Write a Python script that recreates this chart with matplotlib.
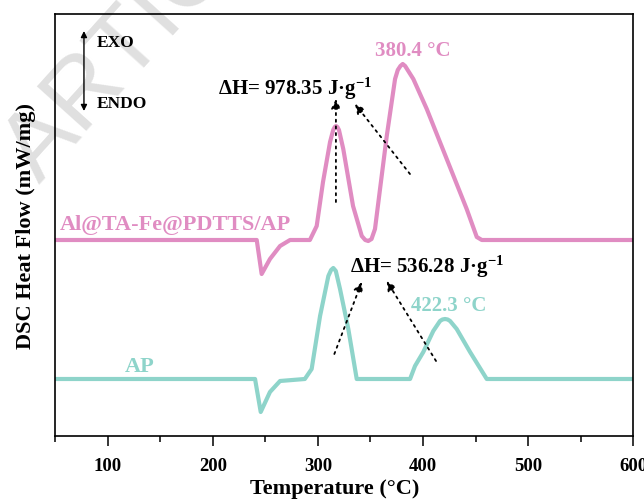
import matplotlib

matplotlib.use("Agg")
import matplotlib.pyplot as plt
from matplotlib.ticker import MultipleLocator


# DSC traces (temperature in degC, heat flow in arbitrary units)
temp_pdtts = [50, 235, 241.7, 246.4, 254.3, 263.9, 273.4, 292.3, 298.8, 304.8,
              311.5, 314.5, 316.0, 317.2, 318.5, 320.0, 324.1, 333.4, 341.7, 345.0,
              347.9, 351.0, 354.3, 359.1, 365.5, 373.4, 376.0, 378.5, 380.7, 383.0,
              386.0, 390.8, 403.6, 422.6, 441.6, 451.2, 456.0, 600]
flow_pdtts = [1.96, 1.96, 1.96, 1.62, 1.77, 1.90, 1.96, 1.96, 2.10, 2.54,
              2.94, 3.06, 3.09, 3.10, 3.09, 3.06, 2.87, 2.30, 2.00, 1.96,
              1.95, 1.97, 2.07, 2.47, 3.00, 3.57, 3.66, 3.70, 3.72, 3.70,
              3.65, 3.57, 3.27, 2.77, 2.27, 1.99, 1.96, 1.96]

temp_ap = [50, 240.1, 245.5, 254.3, 263.9, 287.5, 294.0, 302.0, 309.9, 312.5,
           314.6, 317.0, 321.0, 328.9, 336.9, 387.7, 392.4, 400.3, 409.8, 416.2,
           418.5, 421.0, 423.5, 425.8, 432.1, 444.8, 460.7, 600]
flow_ap = [0.57, 0.57, 0.24, 0.44, 0.55, 0.57, 0.67, 1.20, 1.60, 1.66,
           1.68, 1.65, 1.47, 1.07, 0.57, 0.57, 0.70, 0.84, 1.05, 1.15,
           1.165, 1.17, 1.165, 1.15, 1.07, 0.84, 0.57, 0.57]

series_names = ["Al@TA-Fe@PDTTS/AP", "AP"]
peak_labels = ["380.4 \u00b0C", "422.3 \u00b0C"]
enthalpy_labels = ["\u0394H= 978.35 J\u00b7g$^{-1}$", "\u0394H= 536.28 J\u00b7g$^{-1}$"]
x_ticks = [100, 200, 300, 400, 500, 600]


def _style():
    plt.rcParams.update(
        {
            "font.family": ["Liberation Serif", "DejaVu Serif"],
            "font.weight": "bold",
            "axes.labelweight": "bold",
            "mathtext.fontset": "custom",
            "mathtext.rm": "Liberation Serif:bold",
            "mathtext.bf": "Liberation Serif:bold",
            "mathtext.it": "Liberation Serif:bold:italic",
            "axes.linewidth": 1.2,
        }
    )


def main() -> None:
    _style()
    pink = "#e08cc2"
    teal = "#8ed4ca"

    fig = plt.figure(figsize=(6.44, 5.02), dpi=100)
    ax = fig.add_axes([0.086, 0.1295, 0.897, 0.8406])
    ax.patch.set_visible(False)

    # faint watermark behind everything
    fig.text(0.245, 0.97, "ARTICLE", rotation=48, fontsize=70, color="#e0e0e0",
             family="Liberation Sans", weight="normal", ha="center", va="center",
             rotation_mode="anchor", zorder=-5)

    line_kw = {"lw": 3.0, "solid_joinstyle": "round", "solid_capstyle": "round"}
    ax.plot(temp_pdtts, flow_pdtts, color=pink, **line_kw)
    ax.plot(temp_ap, flow_ap, color=teal, **line_kw)

    ax.set_xlim(50, 600)
    ax.set_ylim(0, 4.22)
    ax.set_xticks(x_ticks)
    ax.xaxis.set_minor_locator(MultipleLocator(50))
    ax.set_yticks([])
    ax.tick_params(axis="x", which="major", direction="out", length=7, width=1.1, pad=8, labelsize=13.5)
    ax.tick_params(axis="x", which="minor", direction="out", length=4, width=1.1)
    ax.set_xlabel("Temperature (\u00b0C)", fontsize=16)
    ax.xaxis.set_label_coords(0.484, -0.1)
    ax.set_ylabel("DSC Heat Flow (mW/mg)", fontsize=16, labelpad=14)

    # series names and peak temperatures
    ax.text(54.5, 2.07, series_names[0], color=pink, fontsize=16, ha="left", va="baseline")
    ax.text(130, 0.65, series_names[1], color=teal, fontsize=16, ha="center", va="baseline")
    ax.text(390.4, 3.81, peak_labels[0], color=pink, fontsize=15, ha="center", va="baseline")
    ax.text(424.1, 1.26, peak_labels[1], color=teal, fontsize=15, ha="center", va="baseline")

    # enthalpy labels with dotted arrows
    ax.text(205, 3.42, enthalpy_labels[0], fontsize=15, ha="left", va="baseline")
    ax.text(330.5, 1.64, enthalpy_labels[1], fontsize=15, ha="left", va="baseline")
    arrow = {"arrowstyle": "-|>", "linestyle": (0, (1.2, 2.5)), "lw": 1.3, "color": "black",
             "mutation_scale": 14, "shrinkA": 0, "shrinkB": 0}
    for tail, head in [((317.1, 2.34), (317.1, 3.37)), ((387.6, 2.62), (335.3, 3.32)),
                       ((315.6, 0.82), (341.7, 1.54)), ((412.4, 0.75), (365.5, 1.55))]:
        ax.annotate("", xy=head, xytext=tail, arrowprops=arrow)

    # EXO / ENDO direction marker
    ax.annotate("", xy=(77.2, 4.05), xytext=(77.2, 3.25),
                arrowprops={"arrowstyle": "<|-|>", "lw": 1.0, "color": "black",
                            "mutation_scale": 9, "shrinkA": 0, "shrinkB": 0})
    ax.text(89.6, 3.94, "EXO", fontsize=12.5, ha="left", va="center")
    ax.text(89.6, 3.33, "ENDO", fontsize=12.5, ha="left", va="center")

    fig.savefig("out.png", dpi=100)
    plt.close(fig)


if __name__ == "__main__":
    main()
